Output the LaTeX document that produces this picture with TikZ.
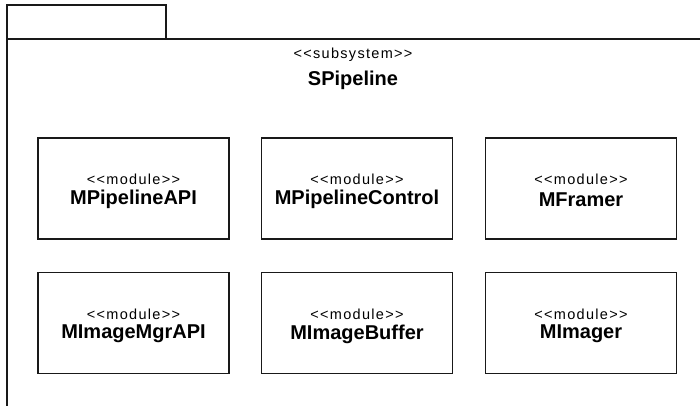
\documentclass[tikz,border=0pt]{standalone}
\usepackage{fontspec}
\setmainfont{Liberation Sans}[Ligatures=NoCommon]
\newcommand{\lt}{{<}}
\newcommand{\gtt}{{>}}
\begin{document}
\begin{tikzpicture}[x=1pt,y=-1pt,
  frame/.style={draw=black!90,line width=1.7pt},
  modbox/.style={draw=black!90,line width=1.7pt,minimum width=191pt,minimum height=101pt,inner sep=0pt},
  stereo/.style={inner sep=0pt,font=\fontsize{14.5}{16}\selectfont\addfontfeature{LetterSpace=9}},
  modname/.style={inner sep=0pt,font=\fontsize{20}{22}\selectfont\bfseries}]
\useasboundingbox (0,0) rectangle (700,406);
% package tab and body
\draw[frame] (7,39) rectangle (166,5);
\draw[frame] (7,406) -- (7,39) -- (700,39);
% package header
\node[stereo] (pst) at (353,55) {\lt\lt subsystem\gtt\gtt};
\node[modname] (pname) at (353,80) {SPipeline};
% modules
\foreach \n/\x/\y/\t in {m1/133.5/188.5/MPipelineAPI, m2/357/188.5/MPipelineControl, m3/581/188.5/MFramer,
                        m4/133.5/323/MImageMgrAPI, m5/357/323/MImageBuffer, m6/581/323/MImager}{
  \node[modbox] (\n) at (\x,\y) {};
  \node[stereo] (\n s) at ([yshift=9pt]\n.center) {\lt\lt module\gtt\gtt};
  \node[modname] (\n t) at ([yshift=-11pt]\n.center) {\t};
}
\end{tikzpicture}
\end{document}
